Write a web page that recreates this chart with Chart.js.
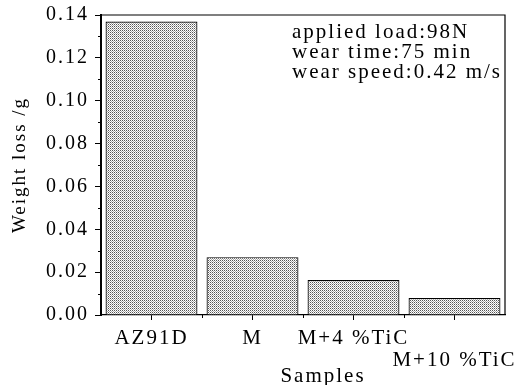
<!DOCTYPE html>
<html>
<head>
<meta charset="utf-8">
<script src="https://cdn.jsdelivr.net/npm/chart.js@4.4.1/dist/chart.umd.min.js"></script>
<style>
  html, body { margin: 0; padding: 0; background: #fff; }
  #chart { display: block; }
</style>
</head>
<body>
<canvas id="chart" width="518" height="385"></canvas>
<script>
// data
const categories = ['AZ91D', 'M', 'M+4 %TiC', 'M+10 %TiC'];
const weightLoss = [0.137, 0.027, 0.0163, 0.0079];
const yMin = 0;
const yMax = 0.14;
const yStep = 0.02;
const yMinorStep = 0.01;
const conditionLines = ['applied load:98N', 'wear time:75 min', 'wear speed:0.42 m/s'];
const xTitle = 'Samples';
const yTitle = 'Weight loss /g';

const serif = "'Liberation Serif', 'Times New Roman', serif";
const spacing = '2px'; // the printed figure is stretched sideways

// dotted grey fill like the printed hatch
function dotPattern() {
  const c = document.createElement('canvas');
  c.width = 2;
  c.height = 2;
  const p = c.getContext('2d');
  p.fillStyle = '#fff';
  p.fillRect(0, 0, 2, 2);
  p.fillStyle = '#555';
  p.fillRect(0, 0, 1, 1);
  p.fillStyle = '#aaa';
  p.fillRect(1, 1, 1, 1);
  return p.createPattern(c, 'repeat');
}

const ctx = document.getElementById('chart').getContext('2d');

const framePlugin = {
  id: 'frame',
  beforeUpdate(chart) { chart.ctx.letterSpacing = spacing; },
  beforeDraw(chart) { chart.ctx.letterSpacing = spacing; },
  afterDraw(chart) {
    const { ctx, chartArea: a, scales: { x, y } } = chart;
    ctx.save();
    ctx.strokeStyle = '#000';
    ctx.lineWidth = 1.2;
    ctx.beginPath();
    ctx.moveTo(a.left, a.top);
    ctx.lineTo(a.right, a.top);
    ctx.lineTo(a.right, a.bottom);
    ctx.stroke();

    // minor ticks
    ctx.lineWidth = 1;
    ctx.beginPath();
    for (let v = yMin + yMinorStep; v < yMax; v += yStep) {
      const py = Math.round(y.getPixelForValue(v)) + 0.5;
      ctx.moveTo(a.left - 3, py);
      ctx.lineTo(a.left, py);
    }
    for (let i = 0; i < categories.length - 1; i++) {
      const px = Math.round((x.getPixelForValue(i) + x.getPixelForValue(i + 1)) / 2) + 0.5;
      ctx.moveTo(px, a.bottom);
      ctx.lineTo(px, a.bottom + 3);
    }
    ctx.stroke();

    // test conditions
    ctx.fillStyle = '#000';
    ctx.letterSpacing = spacing;
    ctx.font = '21px ' + serif;
    ctx.textAlign = 'left';
    ctx.textBaseline = 'alphabetic';
    conditionLines.forEach((t, i) => ctx.fillText(t, 292, 38 + i * 20));

    // x axis title, sits right of centre in the original
    ctx.textAlign = 'center';
    ctx.fillText(xTitle, 323, 382);
    ctx.restore();
  }
};

new Chart(ctx, {
  type: 'bar',
  data: {
    labels: categories.map((c, i) => i === categories.length - 1 ? ['', c] : c),
    datasets: [{
      data: weightLoss,
      backgroundColor: dotPattern(),
      borderColor: '#000',
      borderWidth: 1.2,
      barPercentage: 0.91,
      categoryPercentage: 1
    }]
  },
  options: {
    responsive: false,
    animation: false,
    devicePixelRatio: 1,
    layout: { padding: { left: 0, right: 13, top: 15, bottom: 0 } },
    plugins: {
      legend: { display: false },
      tooltip: { enabled: false }
    },
    scales: {
      x: {
        afterFit(scale) {
          scale.height = 70;
          scale.paddingLeft = 0;
          scale.paddingRight = 0;
        },
        grid: {
          offset: false,
          drawOnChartArea: false,
          drawTicks: true,
          tickLength: 5,
          color: '#000'
        },
        border: { display: true, color: '#000', width: 1.2 },
        ticks: {
          color: '#000',
          padding: 7,
          maxRotation: 0,
          autoSkip: false,
          font: { family: serif, size: 21, lineHeight: 1.05 }
        }
      },
      y: {
        min: yMin,
        max: yMax,
        afterFit(scale) {
          scale.width = 101;
          scale.paddingTop = 0;
          scale.paddingBottom = 0;
        },
        grid: {
          drawOnChartArea: false,
          drawTicks: true,
          tickLength: 6,
          color: '#000'
        },
        border: { display: true, color: '#000', width: 2 },
        ticks: {
          stepSize: yStep,
          color: '#000',
          padding: 6,
          font: { family: serif, size: 20 },
          callback: v => v.toFixed(2)
        },
        title: {
          display: true,
          text: yTitle,
          color: '#000',
          padding: { top: 9, bottom: 0 },
          font: { family: serif, size: 19 }
        }
      }
    }
  },
  plugins: [framePlugin]
});
</script>
</body>
</html>
